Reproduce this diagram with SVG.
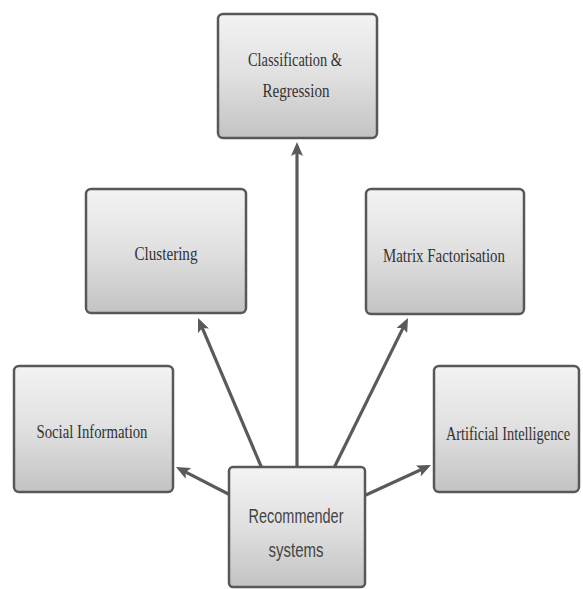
<svg xmlns="http://www.w3.org/2000/svg" width="583" height="589" viewBox="0 0 583 589">
  <style>
    .box { fill: url(#boxFill); stroke: #585858; stroke-width: 2.5; }
    .lbl { font-family: "Liberation Serif", "Times New Roman", serif; font-size: 19px; fill: #333; text-anchor: middle; }
    .lbl-sans { font-family: "Liberation Sans", Arial, sans-serif; font-size: 21px; fill: #444; text-anchor: middle; }
    .conn { stroke: #5a5a5a; stroke-width: 3.2; fill: none; marker-end: url(#head); }
  </style>
  <defs>
    <linearGradient id="boxFill" x1="0" y1="0" x2="0" y2="1">
      <stop offset="0" stop-color="#f3f3f3"/>
      <stop offset="0.5" stop-color="#e0e0e0"/>
      <stop offset="1" stop-color="#c3c3c3"/>
    </linearGradient>
    <marker id="head" markerUnits="userSpaceOnUse" markerWidth="15" markerHeight="12" refX="10" refY="6" orient="auto">
      <path d="M0,0 L14,6 L0,12 L3,6 z" fill="#5a5a5a"/>
    </marker>
  </defs>

  <!-- connectors from the central node -->
  <g id="connectors">
    <line class="conn" x1="266" y1="478" x2="199.6" y2="321.6"/>
    <line class="conn" x1="297" y1="478" x2="297" y2="146"/>
    <line class="conn" x1="329" y1="478" x2="406.2" y2="321.6"/>
    <line class="conn" x1="240" y1="500" x2="179.5" y2="468.8"/>
    <line class="conn" x1="355" y1="500" x2="427.4" y2="466.7"/>
  </g>

  <g id="classification">
    <rect class="box" x="218" y="14" width="159" height="124" rx="5"/>
    <text class="lbl" x="295" y="66" textLength="94" lengthAdjust="spacingAndGlyphs">Classification &amp;</text>
    <text class="lbl" x="296" y="97" textLength="67" lengthAdjust="spacingAndGlyphs">Regression</text>
  </g>

  <g id="clustering">
    <rect class="box" x="86" y="189" width="160" height="124" rx="5"/>
    <text class="lbl" x="166" y="260" textLength="63" lengthAdjust="spacingAndGlyphs">Clustering</text>
  </g>

  <g id="matrix-factorisation">
    <rect class="box" x="366" y="189" width="158" height="125" rx="5"/>
    <text class="lbl" x="444" y="262" textLength="122" lengthAdjust="spacingAndGlyphs">Matrix Factorisation</text>
  </g>

  <g id="social-information">
    <rect class="box" x="14" y="366" width="159" height="126" rx="5"/>
    <text class="lbl" x="92" y="438" textLength="111" lengthAdjust="spacingAndGlyphs">Social Information</text>
  </g>

  <g id="artificial-intelligence">
    <rect class="box" x="434" y="366" width="145" height="126" rx="5"/>
    <!-- condensed horizontally to fit the narrow box -->
    <text class="lbl" transform="scale(0.8,1)" x="635" y="440" style="font-size:18px">Artificial Intelligence</text>
  </g>

  <g id="recommender-systems">
    <rect class="box" x="229" y="467" width="136" height="120" rx="4"/>
    <text class="lbl-sans" x="296" y="523" textLength="95" lengthAdjust="spacingAndGlyphs">Recommender</text>
    <text class="lbl-sans" x="296" y="557" textLength="55" lengthAdjust="spacingAndGlyphs">systems</text>
  </g>
</svg>
